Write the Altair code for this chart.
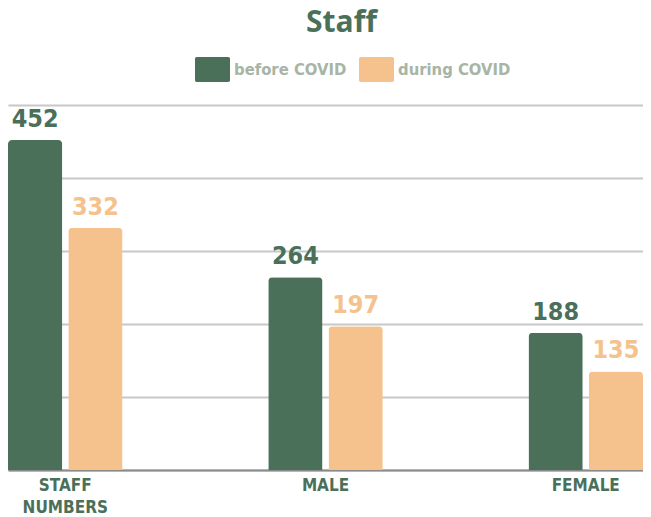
import altair as alt
import pandas as pd

categories = ["STAFF NUMBERS", "MALE", "FEMALE"]
periods = ["before COVID", "during COVID"]
before_covid = [452, 264, 188]
during_covid = [332, 197, 135]
colors = ["#4b705a", "#f5c28e"]

rows = []
for c, b, d in zip(categories, before_covid, during_covid):
    rows.append({"category": c, "period": periods[0], "value": b})
    rows.append({"category": c, "period": periods[1], "value": d})
df = pd.DataFrame(rows)

COND = "DejaVu Sans Condensed, DejaVu Sans, sans-serif"

legend_path = ("M-0.9,-0.714 H0.9 A0.1,0.1 0 0 1 1,-0.614 V0.614 A0.1,0.1 0 0 1 0.9,0.714 "
               "H-0.9 A0.1,0.1 0 0 1 -1,0.614 V-0.614 A0.1,0.1 0 0 1 -0.9,-0.714 Z")

base = alt.Chart(df).encode(
    x=alt.X("category:N", sort=categories,
            scale=alt.Scale(paddingInner=0.56, paddingOuter=0),
            axis=alt.Axis(title=None, labelExpr="split(datum.label, ' ')", labelAngle=0,
                          ticks=False, domainColor="#8a8a8a", domainWidth=2,
                          labelFont=COND, labelFontSize=17, labelFontWeight="bold",
                          labelColor="#4b705a", labelPadding=7, labelLineHeight=22)),
    xOffset=alt.XOffset("period:N", sort=periods,
                        scale=alt.Scale(paddingInner=0.1, paddingOuter=0)),
    y=alt.Y("value:Q", scale=alt.Scale(domain=[0, 500]),
            axis=alt.Axis(title=None, values=[0, 100, 200, 300, 400, 500], labels=False,
                          ticks=False, domain=False, grid=True, gridColor="#c8c8c8",
                          gridWidth=2)),
    color=alt.Color("period:N", sort=periods,
                    scale=alt.Scale(domain=periods, range=colors),
                    legend=alt.Legend(title=None, orient="none", legendX=187, legendY=-53,
                                      direction="horizontal", symbolType=legend_path,
                                      symbolSize=1225, symbolStrokeWidth=0, symbolOpacity=1,
                                      labelFont=COND, labelFontSize=16.5, labelFontWeight="bold",
                                      labelColor="#a8b4a5", labelOffset=4, columnPadding=12,
                                      labelLimit=0, padding=0)),
)

bars = base.mark_bar(cornerRadiusTopLeft=4, cornerRadiusTopRight=4)
labels = base.mark_text(dy=-13, baseline="alphabetic", font=COND, fontSize=25,
                        fontWeight="bold").encode(text="value:Q")

chart = alt.layer(bars, labels).properties(
    width=635, height=365,
    autosize=alt.AutoSizeParams(type="none"),
    padding={"left": 0, "top": 97, "right": 0, "bottom": 46},
    title=alt.TitleParams("Staff", font="Open Sans", fontSize=30, fontWeight="bold",
                          color="#4b705a", anchor="middle", dx=16, offset=14),
).configure_view(stroke=None)

chart.save("out.html", embed_options={"renderer": "svg", "actions": False})
